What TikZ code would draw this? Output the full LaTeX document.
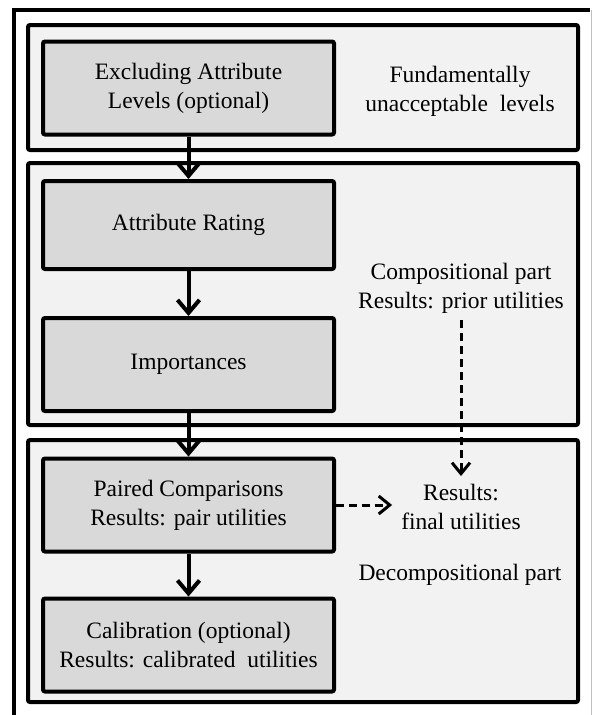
\documentclass[tikz,border=0pt]{standalone}
\usepackage{fontspec}
\setmainfont{Liberation Serif}
\usetikzlibrary{arrows.meta}
\definecolor{panelfill}{HTML}{F2F2F2}
\definecolor{boxfill}{HTML}{D9D9D9}
\begin{document}
\begin{tikzpicture}[x=1pt,y=-1pt,
  panel/.style={draw=black,fill=panelfill,line width=4pt,rounded corners=2pt},
  stepbox/.style={draw=black,fill=boxfill,line width=4pt,rounded corners=2pt,
    minimum width=291pt,minimum height=#1,inner sep=0pt,align=center,
    font=\fontsize{23.5}{29}\selectfont},
  plain/.style={align=center,inner sep=0pt,font=\fontsize{23.5}{29}\selectfont},
  flow/.style={line width=4pt,-{Straight Barb[length=13pt,width=22pt]}},
  dflow/.style={line width=3pt,dash pattern=on 8pt off 5pt,-{Straight Barb[length=11pt,width=18pt]}}
]
\useasboundingbox (0,0) rectangle (592,715);
% outer frame
\draw[line width=4pt] (14,715) -- (14,10) -- (590,10);
\draw[line width=1pt,black!25] (591,10) -- (591,715);
% panels
\draw[panel] (28,25) rectangle (578,150);
\draw[panel] (28,163) rectangle (578,425);
\draw[panel] (28,440) rectangle (578,702);
% boxes
\node[stepbox=93pt] (excl) at (188.5,88) {Excluding Attribute\\Levels (optional)};
\node[stepbox=88pt] (rate) at (188.5,225) {Attribute Rating};
\node[stepbox=93pt] (imp) at (188.5,364.5) {Importances};
\node[stepbox=93pt] (pair) at (188.5,505) {Paired Comparisons\\Results: pair utilities};
\node[stepbox=93pt] (cal) at (188.5,645) {Calibration (optional)\\Results: calibrated\ \ utilities};
% side texts
\node[plain] (fund) at (460,91) {Fundamentally\\unacceptable\ \ levels};
\node[plain] (comp) at (461,288) {Compositional part\\Results: prior utilities};
\node[plain] (final) at (461,507) {Results:\\final utilities};
\node[plain] (decomp) at (460,575) {Decompositional part};
% arrows
\draw[flow] (excl.south) -- (rate.north);
\draw[flow] (rate.south) -- (imp.north);
\draw[flow] (imp.south) -- (pair.north);
\draw[flow] (pair.south) -- (cal.north);
\draw[dflow,shorten <=7pt,shorten >=8pt] (comp.south -| final.north) -- (final.north);
\draw[dflow,shorten >=9pt] (pair.east) -- (pair.east -| final.west);
\end{tikzpicture}
\end{document}
